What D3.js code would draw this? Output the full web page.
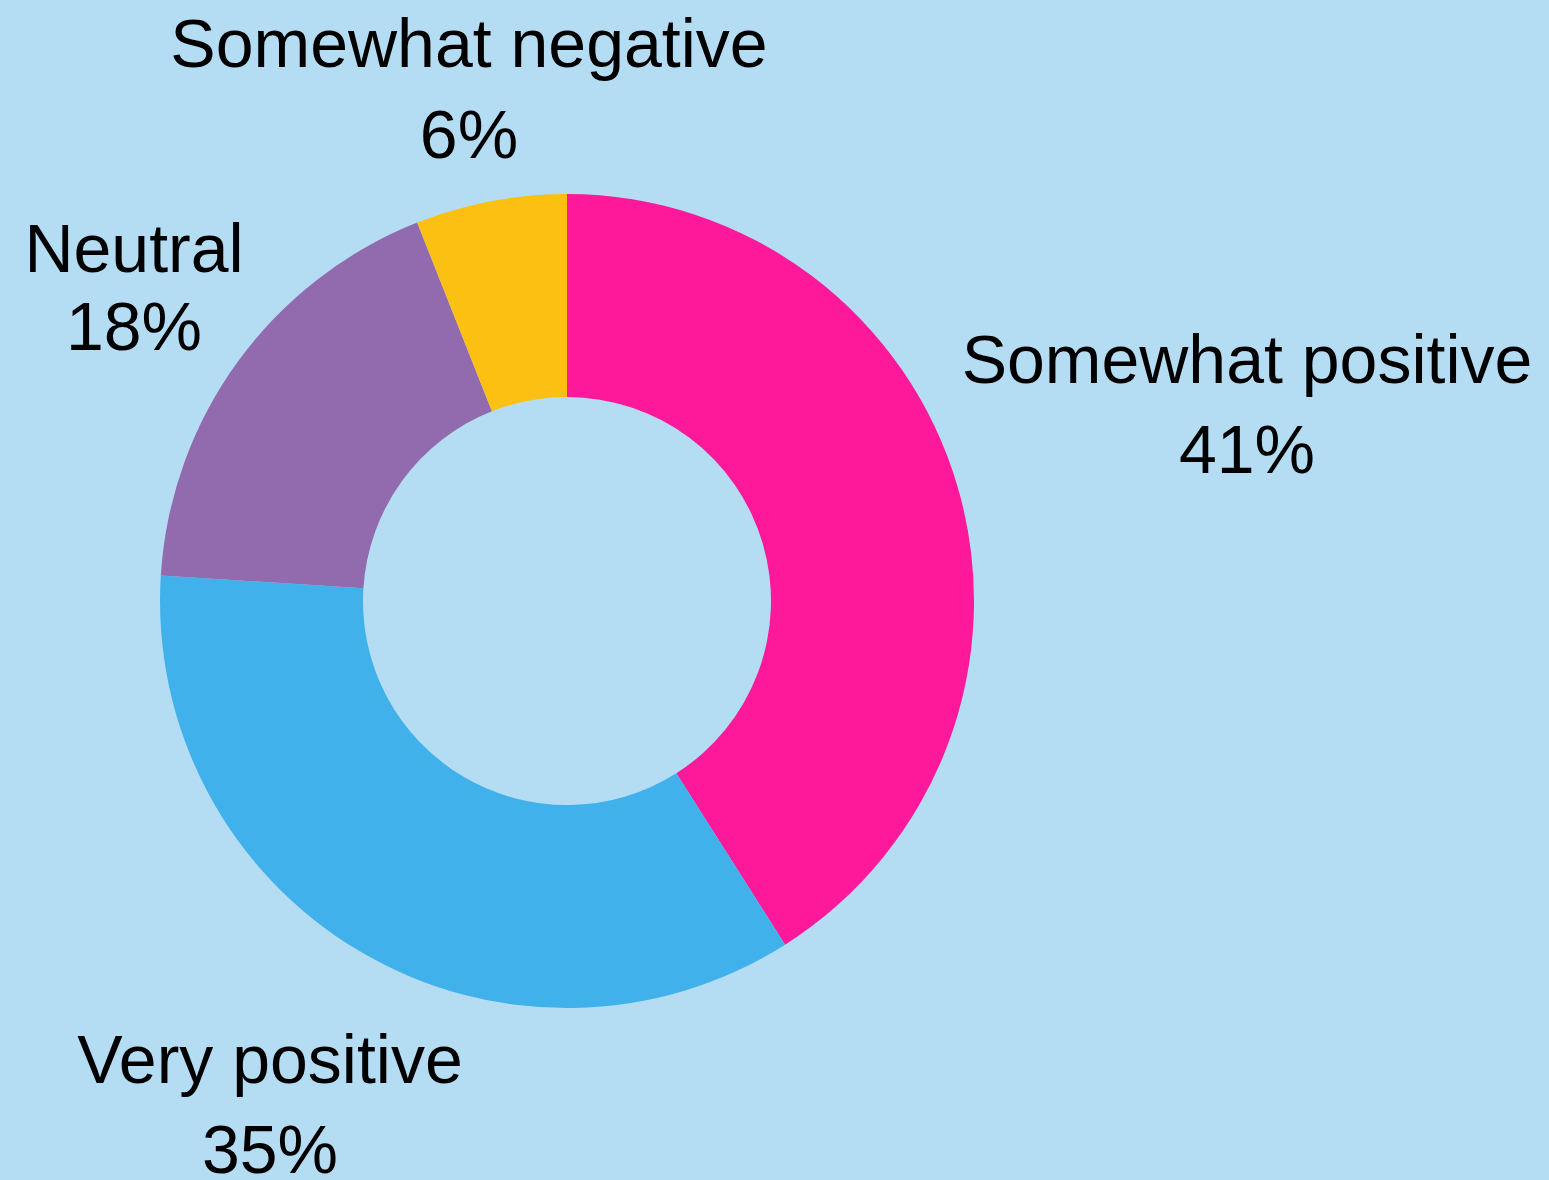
<!DOCTYPE html>
<html>
<head>
<meta charset="utf-8">
<script src="https://cdn.jsdelivr.net/npm/d3@7"></script>
<style>
  html, body { margin: 0; padding: 0; background: #b4ddf4; }
  svg { display: block; }
</style>
</head>
<body>
<div id="chart-container"></div>
<script>
// Slices, clockwise from 12 o'clock
var categories = ['Somewhat positive', 'Very positive', 'Neutral', 'Somewhat negative'];
var values = [41, 35, 18, 6];
var percentLabels = ['41%', '35%', '18%', '6%'];
var colors = ['#fd1999', '#41b1ec', '#916bad', '#fbc012'];

var width = 1549;
var height = 1180;
var cx = 567, cy = 601;
var outerRadius = 407;
var innerRadius = 204;

// label centres sit outside the ring, placed by hand like the original
var labelPos = [
  {x: 1247, y: 383, gap: 90},
  {x: 270, y: 1083, gap: 90},
  {x: 134, y: 272, gap: 78},
  {x: 469, y: 67, gap: 91}
];

function translateString(x, y) {
  return 'translate(' + x + ', ' + y + ')';
}

var svg = d3.select('#chart-container').append('svg')
  .attr('width', width)
  .attr('height', height)
  .attr('viewBox', '0 0 ' + width + ' ' + height);

svg.append('rect')
  .attr('width', width)
  .attr('height', height)
  .attr('fill', '#b4ddf4');

var pie = d3.pie().sort(null).value(function(d) { return d; });
var arc = d3.arc().innerRadius(innerRadius).outerRadius(outerRadius);

var slices = pie(values);

var g = svg.append('g').attr('transform', translateString(cx, cy));

g.selectAll('path')
  .data(slices)
  .enter()
  .append('path')
    .attr('d', arc)
    .attr('fill', function(d, i) { return colors[i]; });

var labels = svg.selectAll('text.label')
  .data(categories)
  .enter()
  .append('text')
    .attr('class', 'label')
    .attr('text-anchor', 'middle')
    .attr('font-family', 'Helvetica, Arial, "Liberation Sans", sans-serif')
    .attr('font-size', 68)
    .attr('fill', '#000');

labels.append('tspan')
  .attr('x', function(d, i) { return labelPos[i].x; })
  .attr('y', function(d, i) { return labelPos[i].y; })
  .text(function(d) { return d; });

labels.append('tspan')
  .attr('x', function(d, i) { return labelPos[i].x; })
  .attr('y', function(d, i) { return labelPos[i].y + labelPos[i].gap; })
  .text(function(d, i) { return percentLabels[i]; });
</script>
</body>
</html>
